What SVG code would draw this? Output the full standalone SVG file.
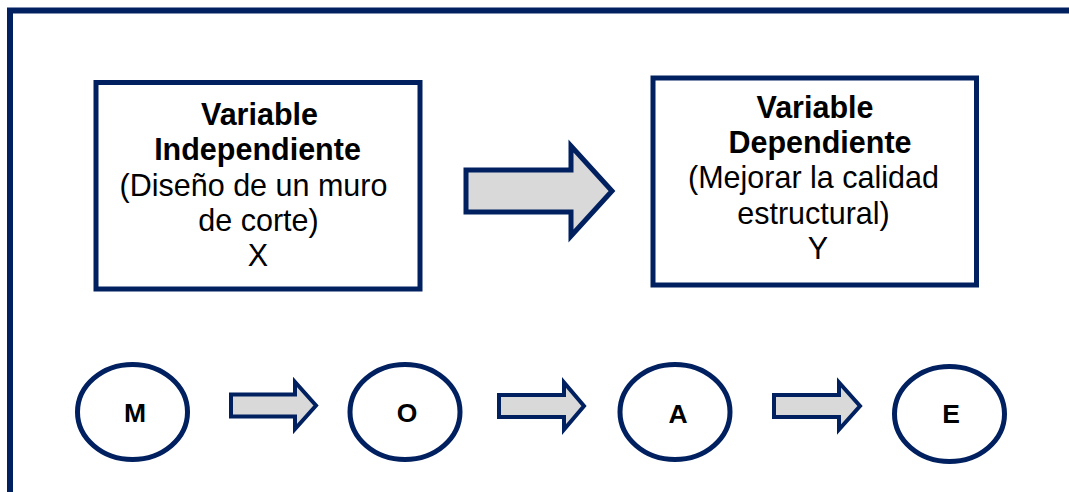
<svg xmlns="http://www.w3.org/2000/svg" width="1069" height="492" viewBox="0 0 1069 492">
<style>
.frame{fill:none;stroke:#002060;stroke-width:6}
.box{fill:#fff;stroke:#002060;stroke-width:5}
.node{fill:#fff;stroke:#002060;stroke-width:5}
.arr{fill:#D9D9D9;stroke:#002060;stroke-linejoin:miter;stroke-miterlimit:10}
.big{stroke-width:5}
.small{stroke-width:4}
text{font-family:"Liberation Sans",Arial,sans-serif;fill:#000;text-anchor:middle}
.h{font-weight:bold;font-size:30.5px}
.r{font-size:30.5px}
.l{font-weight:bold;font-size:26.5px}
</style>
<rect width="1069" height="492" fill="#fff"/>
<rect class="frame" x="10" y="10.5" width="1100" height="520"/>
<g id="var-independiente">
<rect class="box" x="96" y="82.5" width="324" height="206.5"/>
<text class="h" x="259.5" y="125">Variable</text>
<text class="h" x="257.5" y="160">Independiente</text>
<text class="r" x="253.5" y="196">(Diseño de un muro</text>
<text class="r" x="258.5" y="231">de corte)</text>
<text class="r" x="258" y="266">X</text>
</g>
<g id="var-dependiente">
<rect class="box" x="653" y="78" width="323.5" height="207"/>
<text class="h" x="815" y="118">Variable</text>
<text class="h" x="820" y="153">Dependiente</text>
<text class="r" x="813.5" y="188">(Mejorar la calidad</text>
<text class="r" x="813.5" y="224">estructural)</text>
<text class="r" x="818" y="259">Y</text>
</g>
<g id="node-M"><ellipse class="node" cx="132.5" cy="412" rx="55" ry="47.5"/><text class="l" x="135" y="422">M</text></g>
<g id="node-O"><ellipse class="node" cx="405" cy="412" rx="55" ry="47.5"/><text class="l" x="407" y="422">O</text></g>
<g id="node-A"><ellipse class="node" cx="675" cy="412" rx="55" ry="47.5"/><text class="l" x="678" y="422.5">A</text></g>
<g id="node-E"><ellipse class="node" cx="949.5" cy="414" rx="55" ry="47.5"/><text class="l" x="951" y="422.5">E</text></g>
<g id="connectors">
<path class="arr big" d="M466 170H571V146L612 191L571 236V212H466Z"/>
<path class="arr small" d="M231 394.5H295V382L316 405.5L295 429V416.5H231Z"/>
<path class="arr small" d="M499 395H564V382.5L584 406L564 429.5V417H499Z"/>
<path class="arr small" d="M774 395H839V382.5L860 406L839 429.5V417H774Z"/>
</g>
</svg>
